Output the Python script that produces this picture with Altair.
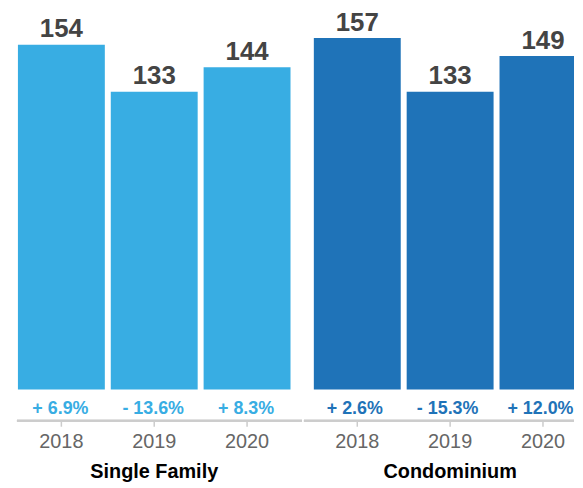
import altair as alt
import pandas as pd

groups = ["Single Family", "Condominium"]
years = ["2018", "2019", "2020"]
single_family = [154, 133, 144]
condominium = [157, 133, 149]
single_family_change = ["+ 6.9%", "- 13.6%", "+ 8.3%"]
condominium_change = ["+ 2.6%", "- 15.3%", "+ 12.0%"]
colors = ["#38ade3", "#1f73b8"]

FONT = "Liberation Sans"
Y_MIN = -13.98
Y_MAX = 169.7
H = 414
BAND_RANGE = 287
GRID = "#cccccc"


def panel(group, values, changes, color, align, width, pct_dx):
    df = pd.DataFrame({"year": years, "value": values, "change": changes})
    x = alt.X(
        "year:N",
        sort=years,
        scale=alt.Scale(
            paddingInner=0.064, paddingOuter=0.0668, align=align,
            range=[0, BAND_RANGE],
        ),
        axis=None,
    )
    y = alt.Y("value:Q", scale=alt.Scale(domain=[Y_MIN, Y_MAX], nice=False, zero=False), axis=None)
    base = alt.Chart(df)
    bars = base.mark_bar(color=color, clip=True).encode(x=x, y=y, y2=alt.datum(0))
    vals = base.mark_text(
        font=FONT, fontSize=26, fontWeight="bold", color="#444444",
        baseline="top", dy=-28.5,
    ).encode(x=x, y=y, text="value:Q")
    pct = base.mark_text(
        font=FONT, fontSize=18, fontWeight="bold", color=color,
        baseline="alphabetic", dy=24.5, dx=pct_dx, clip=True,
    ).encode(x=x, y=alt.datum(0), text="change:N")
    line = base.mark_rule(color=GRID, strokeWidth=2).encode(
        x=alt.value(0), x2=alt.value(width), y=alt.value(H)
    )
    ticks = base.mark_rule(color=GRID, strokeWidth=1.5).encode(
        x=x, y=alt.value(H + 1), y2=alt.value(H + 6)
    )
    year_labels = base.mark_text(
        font=FONT, fontSize=20, color="#666666", baseline="top", dy=11.5,
    ).encode(x=x, y=alt.value(H), text="year:N")
    title = alt.Chart(pd.DataFrame({"group": [group]})).mark_text(
        font=FONT, fontSize=20, fontWeight="bold", color="#000000",
        baseline="top", dy=41.5,
    ).encode(x=alt.datum(years[1]), y=alt.value(H), text="group:N")
    return alt.layer(bars, vals, pct, line, ticks, year_labels, title).properties(
        width=width, height=H
    )


left = panel(groups[0], single_family, single_family_change, colors[0], 0.08, 287, -1)
right = panel(groups[1], condominium, condominium_change, colors[1], 0.8, 272, -2.5)

chart = (
    alt.hconcat(left, right, spacing=0)
    .properties(padding={"left": 8, "top": 0, "right": 0, "bottom": 0})
    .configure_view(stroke=None)
)

chart.save("out.html", embed_options={"renderer": "svg", "actions": False})
